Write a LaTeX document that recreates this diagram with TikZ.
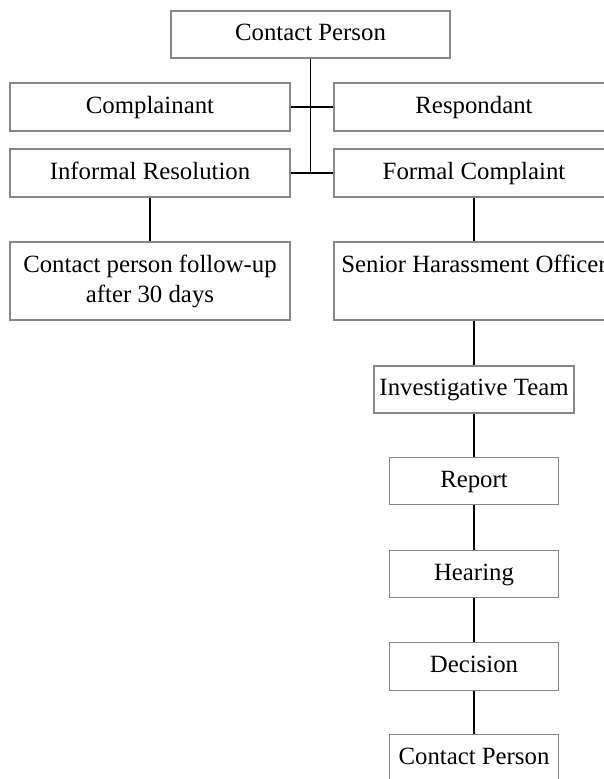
\documentclass[tikz,border=0pt]{standalone}
\usepackage{fontspec}
\setmainfont{Liberation Serif}
\definecolor{boxgray}{RGB}{135,135,135}
\begin{document}
\begin{tikzpicture}[x=1pt,y=-1pt,
  box/.style={draw=boxgray,line width=1.1pt,fill=white,inner sep=0pt,align=center,
    font=\fontsize{24.8}{30}\selectfont},
  wide/.style={box,minimum width=280pt,minimum height=48pt},
  tall/.style={box,minimum width=280pt,minimum height=78pt},
  small/.style={box,minimum width=169pt,minimum height=47.5pt},
  link/.style={draw=black,line width=1.5pt}]
\useasboundingbox (0,0) rectangle (604,779);
\clip (0,0) rectangle (604,779);
\node[box,minimum width=279pt,minimum height=47pt] (top) at (310.5,34.5) {\strut Contact Person};
\node[wide] (comp) at (150,107) {\strut Complainant};
\node[wide] (resp) at (474,107) {\strut Respondant};
\node[wide] (inf) at (150,173) {\strut Informal Resolution};
\node[wide] (formal) at (474,173) {\strut Formal Complaint};
\node[tall] (fu) at (150,281) {\strut Contact person follow-up\\\strut after 30 days};
\node[tall] (sho) at (474,281) {\strut Senior Harassment Officer\\\strut};
\node[box,minimum width=200pt,minimum height=47pt] (inv) at (474,389.5) {\strut Investigative Team};
\node[small] (rep) at (474,481) {\strut Report};
\node[small] (hear) at (474,574) {\strut Hearing};
\node[small] (dec) at (474,666.5) {\strut Decision};
\node[small] (cp2) at (474,758.5) {\strut Contact Person};
\draw[link] (top.south) -- (top.south |- inf.east);
\draw[link] (comp.east) -- (resp.west);
\draw[link] (inf.east) -- (formal.west);
\draw[link] (inf.south) -- (fu.north);
\draw[link] (formal.south) -- (sho.north);
\draw[link] (sho.south) -- (inv.north);
\draw[link] (inv.south) -- (rep.north);
\draw[link] (rep.south) -- (hear.north);
\draw[link] (hear.south) -- (dec.north);
\draw[link] (dec.south) -- (cp2.north);
\end{tikzpicture}
\end{document}
